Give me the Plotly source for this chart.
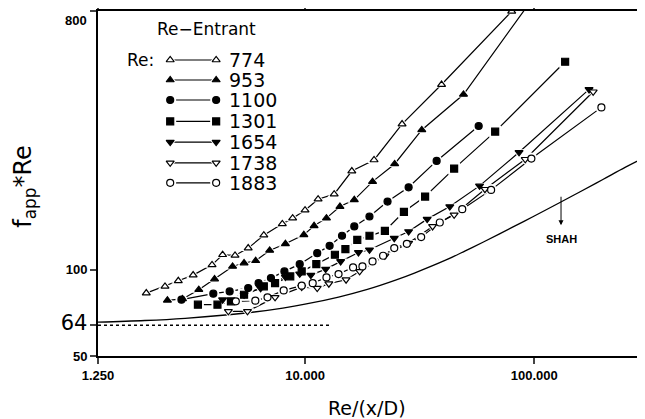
import numpy as np
import plotly.graph_objects as go

# values: Re/(x/D) and fapp*Re, one pair of lists per Reynolds number
re774_x = [2.03, 2.45, 2.80, 3.25, 3.93, 4.37, 4.95, 5.65, 6.61, 7.96, 8.83, 10.0, 11.4, 13.4, 16.0, 20.0, 26.5, 39.4, 79.7]
re774_y = [82.9, 87.5, 91.5, 95.8, 104, 112.8, 112.2, 119, 132, 144.6, 151.4, 161.4, 176.3, 183.6, 221, 241.6, 322.5, 443, 798]

re953_x = [2.51, 2.92, 3.44, 4.03, 4.83, 5.42, 6.09, 7.01, 8.21, 9.88, 10.95, 12.4, 14.2, 16.4, 19.7, 24.6, 32.3, 49.1, 106]
re953_y = [78.2, 79.1, 85.2, 92.8, 102.7, 105.5, 107.5, 116.8, 123.2, 132.4, 142.3, 151.4, 166.2, 175.4, 203, 234, 307.5, 409, 960]

re1100_x = [2.89, 3.98, 4.69, 5.65, 6.27, 7.10, 8.13, 9.48, 11.3, 12.8, 14.5, 16.4, 19.1, 22.9, 28.3, 37.5, 57.2]
re1100_y = [78.6, 82.5, 84.0, 86.3, 89.8, 93.5, 98.7, 104.6, 114.3, 121.2, 131.4, 141.6, 153.4, 173, 194, 239.8, 317.5]

re1301_x = [3.41, 4.15, 4.75, 5.42, 6.61, 7.40, 8.62, 9.67, 11.2, 13.5, 15.0, 16.9, 19.1, 22.3, 27.0, 33.4, 44.7, 67.5, 136.3]
re1301_y = [75.5, 75.5, 77.6, 81.8, 87.5, 89.8, 94.8, 98.7, 104.6, 112.8, 118.0, 127.2, 131.4, 136.7, 159.3, 180.1, 225.5, 303.4, 532]

re1654_x = [4.37, 5.42, 6.40, 8.21, 9.48, 10.6, 12.3, 14.3, 17.1, 19.1, 24.5, 28.3, 34.1, 42.8, 57.7, 85.8, 173.3]
re1654_y = [78.6, 81.8, 86.1, 94.3, 96.8, 95.8, 100.5, 106.9, 114.9, 117.4, 128.9, 136.0, 150.2, 166.2, 196.2, 257, 426]

re1738_x = [4.63, 5.61, 7.40, 9.67, 11.3, 12.7, 15.1, 17.3, 22.3, 28.3, 36.0, 44.7, 60.9, 91.3, 180.6]
re1738_y = [71.6, 71.6, 80.1, 87.0, 86.3, 89.4, 92.3, 98.7, 111.9, 123.9, 141.6, 155.5, 191, 243, 418]

re1883_x = [4.99, 6.07, 6.86, 8.07, 9.67, 10.8, 12.4, 14.0, 16.2, 17.8, 19.7, 21.9, 24.5, 27.8, 32.1, 38.7, 48.5, 64.8, 97.1, 196.2]
re1883_y = [77.6, 78.0, 80.1, 84.7, 88.0, 89.8, 94.0, 96.6, 101.9, 102.7, 106.9, 111.9, 119, 123.2, 130, 146.2, 162.7, 190, 244.3, 368.7]

# Shah curve and the fully developed value 64
shah_x = [1.25, 2, 3, 4.5, 6, 8, 10, 14, 18.7, 25, 30, 41, 50, 60, 80, 100, 130, 160, 200, 250, 304]
shah_y = [65.6, 66.5, 67.7, 69.5, 71.2, 73.5, 75.8, 80.3, 85.4, 92.2, 97.4, 108, 116.4, 125, 140.5, 154,
          172, 188, 207, 228, 247]
fd_x = [1.25, 12.8]
fd_y = [64, 64]

x_ticks = [1.25, 10, 100]
x_ticktext = ["1.250", "10.000", "100.000"]
# the top label (800) is placed as an annotation so it sits just under the frame
y_ticks = [50, 64, 100, 800]
y_ticktext = ["50", "<span style='font-size:21px;font-weight:normal;font-family:DejaVu Sans'>64</span>", "100", ""]
y_top_label = "800"

# label, x, y, symbol, filled
SERIES = [
    ("774", re774_x, re774_y, "triangle-up", False),
    ("953", re953_x, re953_y, "triangle-up", True),
    ("1100", re1100_x, re1100_y, "circle", True),
    ("1301", re1301_x, re1301_y, "square", True),
    ("1654", re1654_x, re1654_y, "triangle-down", True),
    ("1738", re1738_x, re1738_y, "triangle-down", False),
    ("1883", re1883_x, re1883_y, "circle", False),
]

FONT = "Liberation Sans"
TFONT = "DejaVu Sans"
MSIZE = 7

fig = go.Figure()

fig.add_trace(go.Scatter(x=shah_x, y=shah_y, mode="lines", line=dict(color="black", width=1.3),
                         line_shape="spline", showlegend=False))
fig.add_trace(go.Scatter(x=fd_x, y=fd_y, mode="lines", line=dict(color="black", width=1.5, dash="dot"),
                         showlegend=False))

# legend rows live on an invisible 0..1 overlay axis
leg_x = [0.132, 0.216]
leg_rows = [0.858, 0.800, 0.742, 0.680, 0.620, 0.560, 0.502]


def marker_style(symbol, filled, size):
    return dict(symbol=symbol, size=size, color="black" if filled else "white",
                line=dict(color="black", width=1.2))


layers = []
for i, (name, xs, ys, sym, filled) in enumerate(SERIES):
    ly = [leg_rows[i]] * 2
    layers.append((xs, ys, "x", "y", sym, filled))
    layers.append((leg_x, ly, "x2", "y2", sym, filled))

# lines first, then white halos, then the markers on top
for xs, ys, xa, ya, sym, filled in layers:
    fig.add_trace(go.Scatter(x=xs, y=ys, xaxis=xa, yaxis=ya, mode="lines",
                             line=dict(color="black", width=1.2), showlegend=False))
for xs, ys, xa, ya, sym, filled in layers:
    fig.add_trace(go.Scatter(x=xs, y=ys, xaxis=xa, yaxis=ya, mode="markers",
                             marker=dict(symbol=sym, size=MSIZE + 5, color="white"), showlegend=False))
for xs, ys, xa, ya, sym, filled in layers:
    fig.add_trace(go.Scatter(x=xs, y=ys, xaxis=xa, yaxis=ya, mode="markers",
                             marker=marker_style(sym, filled, MSIZE), showlegend=False))


def paper_text(text, x, y, size, **kw):
    d = dict(text=text, x=x, y=y, xref="paper", yref="paper", xanchor="center", yanchor="middle",
             showarrow=False, font=dict(size=size, family=TFONT))
    d.update(kw)
    return d


annotations = [
    paper_text("Re\u2212Entrant", 0.198, 0.948, 17),
    paper_text("Re:", 0.077, leg_rows[0], 17),
    paper_text("f<sub>app</sub>*Re", -0.134, 0.49, 24, textangle=-90, borderpad=0),
    paper_text("Re/(x/D)", 0.491, -0.151, 19),
    paper_text(y_top_label, -0.04, 1.0, 13, xanchor="center", yanchor="top",
               font=dict(size=13, family=FONT, weight="bold")),
    dict(text="SHAH", x=np.log10(130.8), y=np.log10(128), xref="x", yref="y", showarrow=False,
         xanchor="center", yanchor="middle", font=dict(size=11, family=FONT, weight="bold")),
    dict(text="", x=np.log10(130.8), y=np.log10(143), xref="x", yref="y",
         ax=np.log10(130.8), ay=np.log10(182), axref="x", ayref="y",
         showarrow=True, arrowhead=2, arrowsize=1, arrowwidth=1, arrowcolor="black"),
]
for i, (name, *_rest) in enumerate(SERIES):
    annotations.append(paper_text(name, 0.236, leg_rows[i], 19, xanchor="left"))

# the page body adds 8px around the plot, so the margins are trimmed by that much
fig.update_layout(
    width=637, height=411,
    margin=dict(l=90, r=0, t=3, b=63),
    paper_bgcolor="white", plot_bgcolor="white",
    font=dict(family=FONT, color="black"),
    showlegend=False,
    annotations=annotations,
    xaxis=dict(type="log", range=[np.log10(1.25), np.log10(304)], tickvals=x_ticks, ticktext=x_ticktext,
               ticks="outside", ticklen=6, tickwidth=1.5, showline=True, linewidth=2, linecolor="black",
               mirror="ticks", showgrid=False, zeroline=False, automargin=False,
               ticklabeloverflow="allow", tickfont=dict(size=13, family=FONT, weight="bold")),
    yaxis=dict(type="log", range=[np.log10(50), np.log10(800)], tickvals=y_ticks, ticktext=y_ticktext,
               ticks="outside", ticklen=6, tickwidth=1.5, showline=True, linewidth=2, linecolor="black",
               mirror=False, showgrid=False, zeroline=False, automargin=False,
               ticklabeloverflow="allow", tickfont=dict(size=13, family=FONT, weight="bold")),
    xaxis2=dict(overlaying="x", range=[0, 1], visible=False),
    yaxis2=dict(overlaying="y", range=[0, 1], visible=False),
)

fig.write_html("out.html")
